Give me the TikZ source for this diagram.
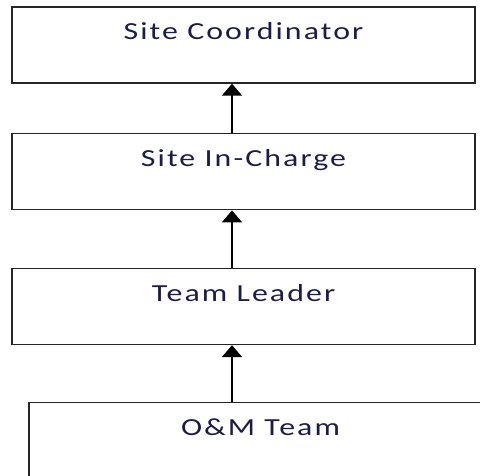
\documentclass[tikz,border=0pt]{standalone}
\usepackage{fontspec}
\setmainfont{Carlito}
\newfontfamily\boxfont[FakeStretch=1.3,LetterSpace=8.5]{Carlito}
\usetikzlibrary{arrows.meta}
\definecolor{txtblue}{RGB}{28,28,72}
\tikzset{
    BOX/.style ={rectangle, draw=black!85, line width=1.4pt, minimum width=463pt, minimum height=76pt,
                 inner sep=0pt, text height=33pt, text depth=43pt, text=txtblue, font=\boxfont\fontsize{24.5}{26}\selectfont},
    ARR/.style ={line width=2pt, -{Triangle[width=20pt,length=12pt]}}}
\begin{document}
\begin{tikzpicture}[x=1pt,y=-1pt]
        \useasboundingbox (0,0) rectangle (480,476);
        \node[BOX] (sc) at (243.5,45){Site Coordinator};
        \node[BOX] (sic) at (243.5,171.7){Site In-Charge};
        \node[BOX] (tl) at (243.5,306.5){Team Leader};
        \node[BOX] (om) at (260.5,440.5){O\&M Team};
        \coordinate (ax) at (232,0);
        \draw[ARR] (sic.north -| ax) -- (sc.south -| ax);
        \draw[ARR] (tl.north -| ax) -- (sic.south -| ax);
        \draw[ARR] (om.north -| ax) -- (tl.south -| ax);
    \end{tikzpicture}
\end{document}
